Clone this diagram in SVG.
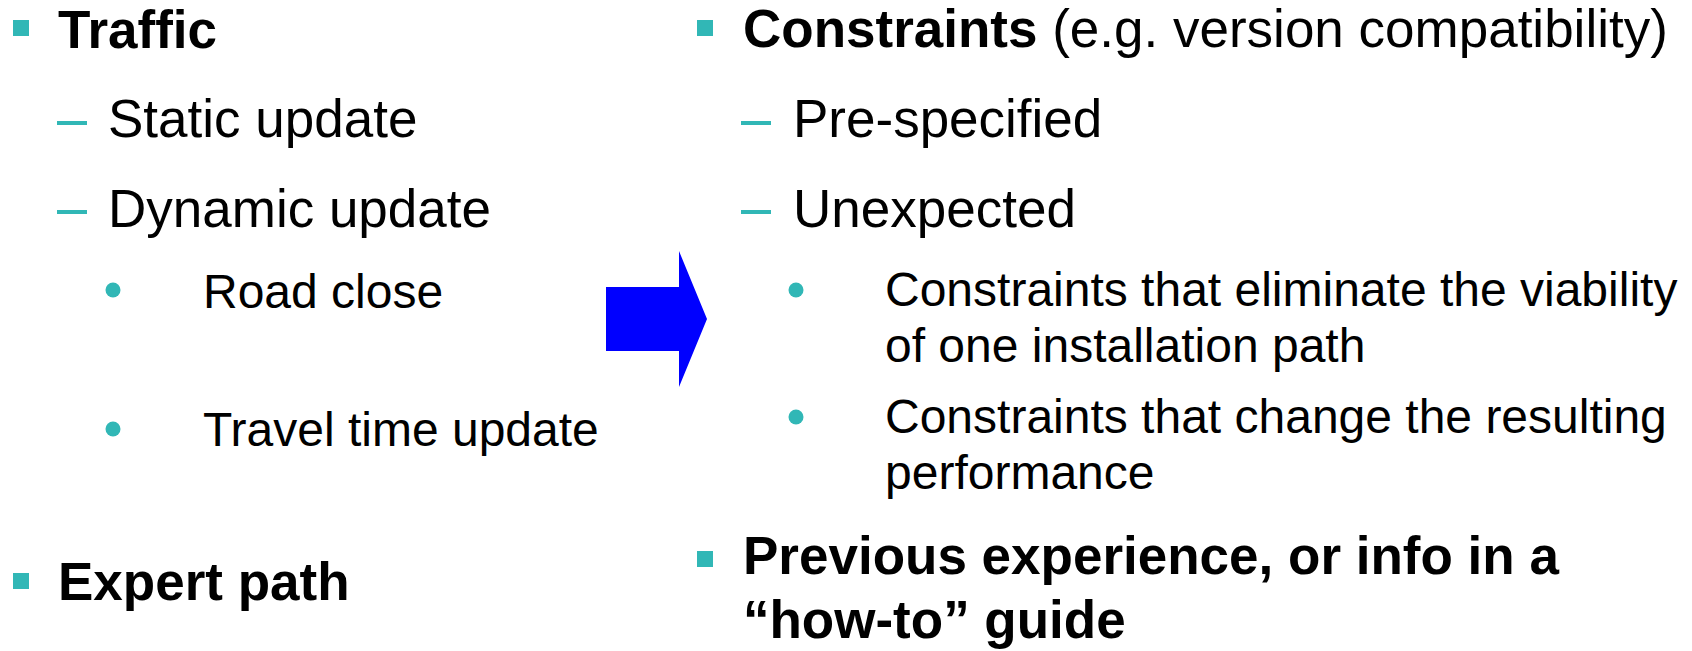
<svg xmlns="http://www.w3.org/2000/svg" width="1692" height="651" viewBox="0 0 1692 651">
  <style>
    text { font-family: "Liberation Sans", Arial, sans-serif; fill: #000000; }
    .l1 { font-size: 53px; font-weight: bold; }
    .l2 { font-size: 53px; }
    .l3 { font-size: 48px; }
    .reg { font-weight: normal; }
    .sq { fill: #31B7B6; }
    .dash { fill: #31B7B6; }
    .dot { fill: #31B7B6; }
  </style>
  <rect width="1692" height="651" fill="#FFFFFF"/>

  <!-- left column -->
  <g id="traffic">
    <rect class="sq" x="13" y="20" width="16" height="16"/>
    <text class="l1" x="58" y="48">Traffic</text>
  </g>
  <g id="static-update">
    <rect class="dash" x="57" y="121" width="30" height="4"/>
    <text class="l2" x="108" y="137">Static update</text>
  </g>
  <g id="dynamic-update">
    <rect class="dash" x="57" y="210" width="30" height="4"/>
    <text class="l2" x="108" y="227">Dynamic update</text>
  </g>
  <g id="road-close">
    <circle class="dot" cx="113" cy="290" r="7.5"/>
    <text class="l3" x="203" y="308">Road close</text>
  </g>
  <g id="travel-time">
    <circle class="dot" cx="113" cy="429" r="7.5"/>
    <text class="l3" x="203" y="446">Travel time update</text>
  </g>
  <g id="expert-path">
    <rect class="sq" x="13" y="573" width="16" height="16"/>
    <text class="l1" x="58" y="600">Expert path</text>
  </g>

  <!-- block arrow between the columns -->
  <g id="connectors">
    <polygon points="606,287 679,287 679,251 707,319 679,387 679,351 606,351" fill="#0000FF"/>
  </g>

  <!-- right column -->
  <g id="constraints">
    <rect class="sq" x="697" y="20" width="16" height="16"/>
    <text class="l1" x="743" y="47">Constraints<tspan class="reg"> (e.g. version compatibility)</tspan></text>
  </g>
  <g id="pre-specified">
    <rect class="dash" x="741" y="121" width="30" height="4"/>
    <text class="l2" x="793" y="137">Pre-specified</text>
  </g>
  <g id="unexpected">
    <rect class="dash" x="741" y="210" width="30" height="4"/>
    <text class="l2" x="793" y="227">Unexpected</text>
  </g>
  <g id="eliminate-viability">
    <circle class="dot" cx="796" cy="290" r="7.5"/>
    <text class="l3" x="885" y="306">Constraints that eliminate the viability</text>
    <text class="l3" x="885" y="362">of one installation path</text>
  </g>
  <g id="change-performance">
    <circle class="dot" cx="796" cy="417" r="7.5"/>
    <text class="l3" x="885" y="433">Constraints that change the resulting</text>
    <text class="l3" x="885" y="489">performance</text>
  </g>
  <g id="previous-experience">
    <rect class="sq" x="697" y="551" width="16" height="16"/>
    <text class="l1" x="743" y="574">Previous experience, or info in a</text>
    <text class="l1" x="743" y="638">“how-to” guide</text>
  </g>
</svg>
